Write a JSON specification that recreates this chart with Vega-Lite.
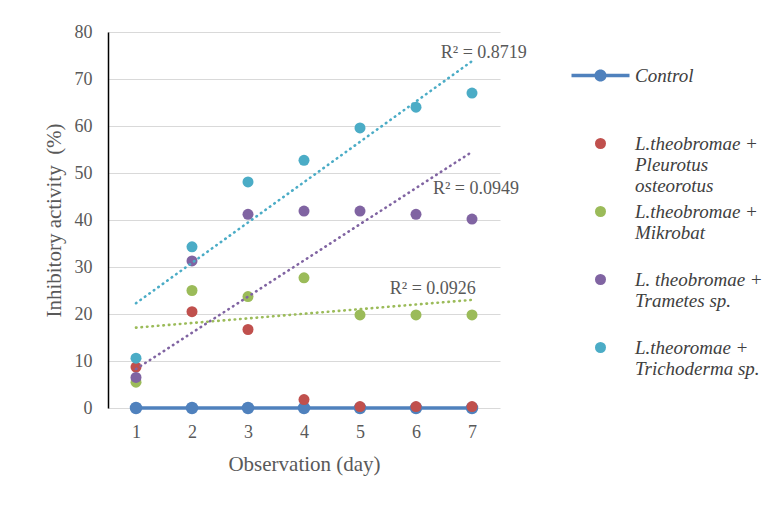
{
  "$schema": "https://vega.github.io/schema/vega-lite/v6.json",
  "autosize": "none",
  "width": 392,
  "height": 376,
  "padding": {"left": 108, "top": 32, "right": 279, "bottom": 102},
  "background": "white",
  "config": {
    "view": {"stroke": null},
    "font": "Liberation Serif",
    "text": {"font": "Liberation Serif"},
    "axis": {"labelFont": "Liberation Serif", "titleFont": "Liberation Serif", "labelColor": "#595959", "titleColor": "#595959", "titleFontWeight": "normal"},
    "legend": {"labelFont": "Liberation Serif"}
  },
  "datasets": {
    "obs": [
      {"series": "Control", "day": 1, "value": 0},
      {"series": "Control", "day": 2, "value": 0},
      {"series": "Control", "day": 3, "value": 0},
      {"series": "Control", "day": 4, "value": 0},
      {"series": "Control", "day": 5, "value": 0},
      {"series": "Control", "day": 6, "value": 0},
      {"series": "Control", "day": 7, "value": 0},
      {"series": "L.theobromae + Pleurotus osteorotus", "day": 1, "value": 8.7},
      {"series": "L.theobromae + Pleurotus osteorotus", "day": 2, "value": 20.5},
      {"series": "L.theobromae + Pleurotus osteorotus", "day": 3, "value": 16.7},
      {"series": "L.theobromae + Pleurotus osteorotus", "day": 4, "value": 1.8},
      {"series": "L.theobromae + Pleurotus osteorotus", "day": 5, "value": 0.3},
      {"series": "L.theobromae + Pleurotus osteorotus", "day": 6, "value": 0.3},
      {"series": "L.theobromae + Pleurotus osteorotus", "day": 7, "value": 0.3},
      {"series": "L.theobromae + Mikrobat", "day": 1, "value": 5.5},
      {"series": "L.theobromae + Mikrobat", "day": 2, "value": 25.0},
      {"series": "L.theobromae + Mikrobat", "day": 3, "value": 23.7},
      {"series": "L.theobromae + Mikrobat", "day": 4, "value": 27.7},
      {"series": "L.theobromae + Mikrobat", "day": 5, "value": 19.8},
      {"series": "L.theobromae + Mikrobat", "day": 6, "value": 19.8},
      {"series": "L.theobromae + Mikrobat", "day": 7, "value": 19.8},
      {"series": "L. theobromae + Trametes sp.", "day": 1, "value": 6.5},
      {"series": "L. theobromae + Trametes sp.", "day": 2, "value": 31.3},
      {"series": "L. theobromae + Trametes sp.", "day": 3, "value": 41.2},
      {"series": "L. theobromae + Trametes sp.", "day": 4, "value": 41.9},
      {"series": "L. theobromae + Trametes sp.", "day": 5, "value": 41.9},
      {"series": "L. theobromae + Trametes sp.", "day": 6, "value": 41.2},
      {"series": "L. theobromae + Trametes sp.", "day": 7, "value": 40.2},
      {"series": "L.theoromae + Trichoderma sp.", "day": 1, "value": 10.6},
      {"series": "L.theoromae + Trichoderma sp.", "day": 2, "value": 34.3},
      {"series": "L.theoromae + Trichoderma sp.", "day": 3, "value": 48.1},
      {"series": "L.theoromae + Trichoderma sp.", "day": 4, "value": 52.7},
      {"series": "L.theoromae + Trichoderma sp.", "day": 5, "value": 59.6},
      {"series": "L.theoromae + Trichoderma sp.", "day": 6, "value": 64.0},
      {"series": "L.theoromae + Trichoderma sp.", "day": 7, "value": 67.0}
    ],
    "trend": [
      {"series": "L.theobromae + Mikrobat", "day": 1, "value": 17.1},
      {"series": "L.theobromae + Mikrobat", "day": 7, "value": 23.0},
      {"series": "L. theobromae + Trametes sp.", "day": 1, "value": 8.3},
      {"series": "L. theobromae + Trametes sp.", "day": 7, "value": 54.5},
      {"series": "L.theoromae + Trichoderma sp.", "day": 1, "value": 22.3},
      {"series": "L.theoromae + Trichoderma sp.", "day": 7, "value": 73.8}
    ],
    "r2": [
      {"label": "R² = 0.8719", "day": 7.21, "value": 75.6},
      {"label": "R² = 0.0949", "day": 7.07, "value": 46.6},
      {"label": "R² = 0.0926", "day": 6.30, "value": 25.3}
    ]
  },
  "layer": [
    {
      "data": {"name": "obs"},
      "transform": [{"filter": "datum.series === 'Control'"}],
      "mark": {"type": "line", "strokeWidth": 3.5, "point": {"filled": true, "size": 156, "opacity": 1}},
      "encoding": {
        "x": {"field": "day", "type": "quantitative", "scale": {"domain": [0.5, 7.5], "nice": false, "zero": false},
          "axis": {"values": [1, 2, 3, 4, 5, 6, 7], "format": "d", "grid": false, "domain": false, "ticks": false, "labelFont": "Liberation Serif", "labelFontSize": 18, "labelPadding": 15, "title": "Observation (day)", "titleFont": "Liberation Serif", "titleFontSize": 21, "titlePadding": 12}},
        "y": {"field": "value", "type": "quantitative", "scale": {"domain": [0, 80], "nice": false},
          "axis": {"values": [0, 10, 20, 30, 40, 50, 60, 70, 80], "grid": true, "gridColor": "#D9D9D9", "gridWidth": 1, "domain": true, "domainColor": "#000000", "domainWidth": 1.5, "ticks": false, "labelFont": "Liberation Serif", "labelFontSize": 18, "labelPadding": 16, "title": "Inhibitory activity \u00a0(%)", "titleFont": "Liberation Serif", "titleFontSize": 21, "titlePadding": 10}},
        "color": {"field": "series", "type": "nominal",
          "scale": {"domain": ["Control", "L.theobromae + Pleurotus osteorotus", "L.theobromae + Mikrobat", "L. theobromae + Trametes sp.", "L.theoromae + Trichoderma sp."], "range": ["#4F81BD", "#C0504D", "#9BBB59", "#8064A2", "#4BACC6"]},
          "legend": {
            "title": null, "orient": "none", "legendX": 483, "legendY": 34, "padding": 0,
            "labelFont": "Liberation Serif", "labelFontStyle": "italic", "labelFontSize": 19, "labelColor": "#404040", "labelLimit": 300, "labelOffset": 25, "rowPadding": 6,
            "labelExpr": "datum.label === 'L.theobromae + Pleurotus osteorotus' ? ['L.theobromae +', 'Pleurotus', 'osteorotus'] : datum.label === 'L.theobromae + Mikrobat' ? ['L.theobromae +', 'Mikrobat', ''] : datum.label === 'L. theobromae + Trametes sp.' ? ['L. theobromae +', 'Trametes sp.', ''] : datum.label === 'L.theoromae + Trichoderma sp.' ? ['L.theoromae +', 'Trichoderma sp.', ''] : [datum.label, '', '']",
            "encode": {
              "symbols": {"update": {
                "shape": {"signal": "datum.value === 'Control' ? 'M-1,-0.06L1,-0.06L1,0.06L-1,0.06Z M-0.21,0A0.21,0.21 0 1,1 0.21,0A0.21,0.21 0 1,1 -0.21,0Z' : 'circle'"},
                "size": {"signal": "datum.value === 'Control' ? 3364 : 121"},
                "fill": {"scale": "color", "field": "value"},
                "fillOpacity": {"value": 1},
                "opacity": {"value": 1},
                "stroke": {"value": "transparent"},
                "strokeWidth": {"value": 0}
              }},
              "labels": {"update": {
                "lineHeight": {"value": 21},
                "font": {"value": "Liberation Serif"},
                "fontStyle": {"value": "italic"},
                "fontSize": {"value": 19},
                "fill": {"value": "#404040"}
              }}
            }
          }}
      }
    },
    {
      "data": {"name": "obs"},
      "transform": [{"filter": "datum.series !== 'Control'"}],
      "mark": {"type": "point", "filled": true, "size": 121, "opacity": 1},
      "encoding": {
        "x": {"field": "day", "type": "quantitative"},
        "y": {"field": "value", "type": "quantitative"},
        "color": {"field": "series", "type": "nominal"}
      }
    },
    {
      "data": {"name": "trend"},
      "mark": {"type": "line", "strokeWidth": 2.6, "strokeDash": [0.5, 5], "strokeCap": "round"},
      "encoding": {
        "x": {"field": "day", "type": "quantitative"},
        "y": {"field": "value", "type": "quantitative"},
        "color": {"field": "series", "type": "nominal"},
        "detail": {"field": "series"}
      }
    },
    {
      "data": {"name": "r2"},
      "mark": {"type": "text", "font": "Liberation Serif", "fontSize": 18, "color": "#595959", "align": "center", "baseline": "middle"},
      "encoding": {
        "x": {"field": "day", "type": "quantitative"},
        "y": {"field": "value", "type": "quantitative"},
        "text": {"field": "label"}
      }
    }
  ]
}
